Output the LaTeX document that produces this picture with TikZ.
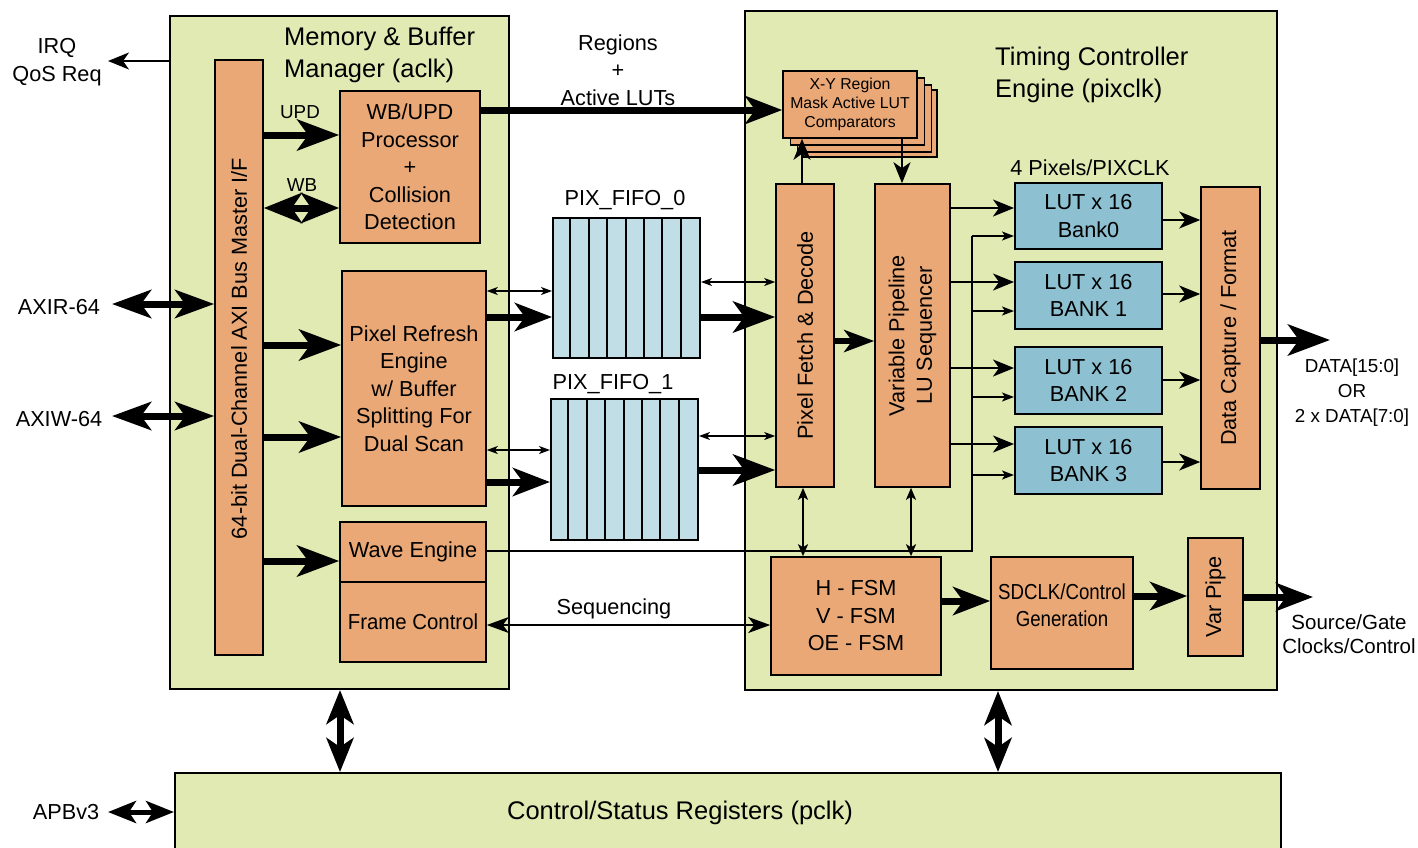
\documentclass[tikz,border=0pt]{standalone}
\usepackage{graphicx}
\usepackage{fontspec}
\setmainfont{Liberation Sans}
\usetikzlibrary{arrows.meta}
\definecolor{grn}{RGB}{226,234,180}
\definecolor{org}{RGB}{233,168,118}
\definecolor{fifoc}{RGB}{193,222,230}
\definecolor{lutc}{RGB}{141,192,208}
\newcommand\fnorm{\fontsize{21.7}{27.5}\selectfont}
\newcommand\ftitle{\fontsize{25.5}{31.5}\selectfont}
\newcommand\fsmall{\fontsize{18.8}{25}\selectfont}
\newcommand\fsrc{\fontsize{20.5}{24}\selectfont}
\newcommand\ftiny{\fontsize{15.8}{19}\selectfont}
\begin{document}
\begin{tikzpicture}[x=1pt,y=-1pt,
 area/.style={draw, line width=2pt, fill=grn, inner sep=0pt},
 box/.style={draw, line width=1.6pt, fill=org, inner sep=0pt, align=center, font=\fnorm},
 lutbox/.style={draw, line width=2pt, fill=lutc, inner sep=0pt, align=center, font=\fnorm},
 fifobox/.style={draw, line width=2pt, fill=fifoc, inner sep=0pt},
 lbl/.style={font=\fnorm, align=center, inner sep=0pt},
 bigarrow/.style={line width=7pt, -{Stealth[length=42pt,width=31pt,inset=11pt]}},
 midarrow/.style={line width=7pt, -{Stealth[length=37pt,width=28pt,inset=10pt]}},
 smallthick/.style={line width=6pt, -{Stealth[length=30pt,width=22pt,inset=8pt]}},
 bigdbl/.style={line width=7pt, {Stealth[length=38pt,width=30pt,inset=10pt]}-{Stealth[length=38pt,width=30pt,inset=10pt]}},
 axdbl/.style={line width=7pt, {Stealth[length=39pt,width=28pt,inset=10pt]}-{Stealth[length=39pt,width=28pt,inset=10pt]}},
 vdbl/.style={line width=7pt, {Stealth[length=34pt,width=27pt,inset=9pt]}-{Stealth[length=34pt,width=27pt,inset=9pt]}},
 apbdbl/.style={line width=5pt, {Stealth[length=28pt,width=22pt,inset=7pt]}-{Stealth[length=28pt,width=22pt,inset=7pt]}},
 thinarrow/.style={line width=2pt, -{Stealth[length=21pt,width=17pt,inset=6pt]}},
 smallarrow/.style={line width=1.8pt, -{Stealth[length=12pt,width=9pt,inset=3pt]}},
 tinydbl/.style={line width=1.5pt, {Stealth[length=11pt,width=8pt,inset=3pt]}-{Stealth[length=11pt,width=8pt,inset=3pt]}},
 vsdbl/.style={line width=2pt, {Stealth[length=12pt,width=10pt,inset=3pt]}-{Stealth[length=12pt,width=10pt,inset=3pt]}},
 seqdbl/.style={line width=2pt, {Stealth[length=22pt,width=16pt,inset=6pt]}-{Stealth[length=22pt,width=16pt,inset=6pt]}},
 wire/.style={line width=2pt}
]
\useasboundingbox (0,0) rectangle (1418,847);

% ---- areas
\node[area, minimum width=339pt, minimum height=673pt] (mem) at (339.5,352.5) {};
\node[area, minimum width=532pt, minimum height=679pt] (tim) at (1011,350.5) {};
\node[area, minimum width=1106pt, minimum height=80pt] (csr) at (728,813) {};

\node[font=\ftitle, align=left, anchor=west, inner sep=0pt] (memtitle) at (284,55) {Memory \& Buffer\\Manager (aclk)};
\node[font=\ftitle, align=left, anchor=west, inner sep=0pt] (timtitle) at (995,75) {Timing Controller\\Engine (pixclk)};
\node[font=\ftitle, inner sep=0pt] (csrtext) at (680,813) {Control/Status Registers (pclk)};

% ---- wave engine wire junctions
\coordinate (wj) at (972,551);
\coordinate (w0) at (972,236);
\coordinate (w1) at (972,311);
\coordinate (w2) at (972,397);
\coordinate (w3) at (972,475);

% ---- memory manager blocks
\node[box, minimum width=48pt, minimum height=595pt] (bar) at (239,357.5) {\rotatebox{90}{\kern18pt 64-bit Dual-Channel AXI Bus Master I/F}};
\node[box, minimum width=140pt, minimum height=152pt] (wbupd) at (410,167) {WB/UPD\\Processor\\+\\Collision\\Detection};
\node[box, minimum width=144pt, minimum height=235pt] (pre) at (414,388.5) {Pixel Refresh\\Engine\\w/ Buffer\\Splitting For\\Dual Scan};
\node[box, minimum width=146pt, minimum height=60pt] (wave) at (413,552) {Wave Engine};
\node[box, minimum width=146pt, minimum height=80pt] (frame) at (413,622) {\raisebox{-3pt}{\scalebox{0.94}[1]{Frame Control}}};

% ---- FIFOs
\node[fifobox, minimum width=147pt, minimum height=140pt] (fifo0) at (626.5,288) {};
\foreach \i in {1,...,7} \draw[line width=2pt] (fifo0.north west) ++(\i*18.375,0) -- ++(0,140);
\node[fifobox, minimum width=147pt, minimum height=141pt] (fifo1) at (624.5,469.5) {};
\foreach \i in {1,...,7} \draw[line width=2pt] (fifo1.north west) ++(\i*18.375,0) -- ++(0,141);
\node[lbl] (f0lab) at (625,200) {PIX\_FIFO\_0};
\node[lbl] (f1lab) at (613,384) {PIX\_FIFO\_1};

% ---- timing controller blocks
\node[box, minimum width=134pt, minimum height=67pt] (xyb3) at (870,123.5) {};
\node[box, minimum width=134pt, minimum height=67pt] (xyb2) at (864.5,118.5) {};
\node[box, minimum width=134pt, minimum height=67pt] (xyb1) at (857.5,111.5) {};
\node[box, minimum width=134pt, minimum height=67pt, font=\ftiny] (xy) at (850,104.5) {X-Y Region\\Mask Active LUT\\Comparators};

\node[box, minimum width=58pt, minimum height=303pt] (pfd) at (805,335.5) {\rotatebox{90}{Pixel Fetch \& Decode}};
\node[box, minimum width=75pt, minimum height=303pt] (vpl) at (912.5,335.5) {\rotatebox{90}{\begin{tabular}{@{}c@{}}Variable Pipeline\\LU Sequencer\end{tabular}}};

\draw[wire] (wave.east |- wj) -- (wj) -- (w0);

\node[lbl] (pixlab) at (1090,168) {4 Pixels/PIXCLK};
\node[lutbox, minimum width=147pt, minimum height=66pt] (lut0) at (1088.5,216) {LUT x 16\\Bank0};
\node[lutbox, minimum width=147pt, minimum height=67pt] (lut1) at (1088.5,295.5) {LUT x 16\\BANK 1};
\node[lutbox, minimum width=147pt, minimum height=67pt] (lut2) at (1088.5,380.5) {LUT x 16\\BANK 2};
\node[lutbox, minimum width=147pt, minimum height=67pt] (lut3) at (1088.5,460.5) {LUT x 16\\BANK 3};

\node[box, minimum width=59pt, minimum height=302pt] (dcf) at (1230.5,338) {\rotatebox{90}{Data Capture / Format}};

\node[box, minimum width=170pt, minimum height=118pt] (fsm) at (856,616) {H - FSM\\V - FSM\\OE - FSM};
\node[box, minimum width=142pt, minimum height=112pt] (sdclk) at (1062,613) {};
\node[lbl] (sdtext) at (1062,605) {\scalebox{0.86}[1]{SDCLK/Control}\\\scalebox{0.86}[1]{Generation}};
\node[box, minimum width=55pt, minimum height=118pt] (vpipe) at (1215.5,597) {\rotatebox{90}{Var Pipe}};

% ---- outside labels
\node[lbl] (irq) at (57,62) {IRQ\\QoS Req};
\node[lbl] (axir) at (59,307) {AXIR-64};
\node[lbl] (axiw) at (59,419) {AXIW-64};
\node[lbl] (apb) at (66,812) {APBv3};
\node[lbl] (reglab) at (618,70) {Regions\\+\\Active LUTs};
\node[lbl, font=\fsmall] (updlab) at (300,112) {UPD};
\node[lbl, font=\fsmall] (wblab) at (302,185) {WB};
\node[lbl] (seqlab) at (614,609) {Sequencing};
\node[lbl, font=\fsmall] (dataout) at (1352,393) {DATA[15:0]\\OR\\2 x DATA[7:0]};
\node[lbl, font=\fsrc] (srcout) at (1349,634) {Source/Gate\\Clocks/Control};

% ---- free ends
\coordinate (irqtip) at (108,61);
\coordinate (axirtip) at (112,304);
\coordinate (axiwtip) at (112,416);
\coordinate (apbtip) at (108,812);
\coordinate (dtip) at (1330,340);
\coordinate (stip) at (1313,597);

% ---- connectors
\draw[thinarrow] (mem.west |- irqtip) -- (irqtip);
\draw[axdbl] (axirtip) -- (bar.west |- axirtip);
\draw[axdbl] (axiwtip) -- (bar.west |- axiwtip);
\draw[apbdbl] (apbtip) -- (csr.west |- apbtip);

\draw[bigarrow] (bar.east |- 0,135) -- (wbupd.west |- 0,135);
\draw[bigdbl] (bar.east |- 0,208) -- (wbupd.west |- 0,208);
\draw[midarrow] (wbupd.east |- 0,110) -- (xy.west |- 0,110);
\draw[bigarrow] (bar.east |- 0,345) -- (pre.west |- 0,345);
\draw[bigarrow] (bar.east |- 0,437) -- (pre.west |- 0,437);
\draw[bigarrow] (bar.east |- 0,561) -- (wave.west |- 0,561);

\draw[tinydbl] (pre.east |- 0,291) -- (fifo0.west |- 0,291);
\draw[midarrow] (pre.east |- 0,317) -- (fifo0.west |- 0,317);
\draw[tinydbl] (pre.east |- 0,450) -- (fifo1.west |- 0,450);
\draw[midarrow] (pre.east |- 0,482) -- (fifo1.west |- 0,482);

\draw[tinydbl] (fifo0.east |- 0,282) -- (pfd.west |- 0,282);
\draw[bigarrow] (fifo0.east |- 0,317) -- (pfd.west |- 0,317);
\draw[tinydbl] (fifo1.east |- 0,436) -- (pfd.west |- 0,436);
\draw[bigarrow] (fifo1.east |- 0,470) -- (pfd.west |- 0,470);

\draw[smallthick] (pfd.east |- 0,341) -- (vpl.west |- 0,341);
\draw[thinarrow] (pfd.north -| 802,0) -- (xy.south -| 802,0);
\draw[thinarrow] (xy.south -| 902,0) -- (vpl.north -| 902,0);
\draw[vsdbl] (pfd.south -| 803,0) -- (fsm.north -| 803,0);
\draw[vsdbl] (vpl.south -| 911,0) -- (fsm.north -| 911,0);

\draw[thinarrow] (vpl.east |- 0,208) -- (lut0.west |- 0,208);
\draw[thinarrow] (vpl.east |- 0,282) -- (lut1.west |- 0,282);
\draw[thinarrow] (vpl.east |- 0,368) -- (lut2.west |- 0,368);
\draw[thinarrow] (vpl.east |- 0,444) -- (lut3.west |- 0,444);

\draw[smallarrow] (w0) -- (lut0.west |- w0);
\draw[smallarrow] (w1) -- (lut1.west |- w1);
\draw[smallarrow] (w2) -- (lut2.west |- w2);
\draw[smallarrow] (w3) -- (lut3.west |- w3);

\draw[thinarrow] (lut0.east |- 0,220) -- (dcf.west |- 0,220);
\draw[thinarrow] (lut1.east |- 0,294) -- (dcf.west |- 0,294);
\draw[thinarrow] (lut2.east |- 0,380) -- (dcf.west |- 0,380);
\draw[thinarrow] (lut3.east |- 0,462) -- (dcf.west |- 0,462);

\draw[bigarrow] (dcf.east |- dtip) -- (dtip);
\draw[seqdbl] (frame.east |- 0,625) -- (fsm.west |- 0,625);
\draw[midarrow] (fsm.east |- 0,601) -- (sdclk.west |- 0,601);
\draw[midarrow] (sdclk.east |- 0,596) -- (vpipe.west |- 0,596);
\draw[midarrow] (vpipe.east |- stip) -- (stip);

\draw[vdbl] (mem.south -| 340,0) -- (csr.north -| 340,0);
\draw[vdbl] (tim.south -| 998,0) -- (csr.north -| 998,0);
\end{tikzpicture}
\end{document}
